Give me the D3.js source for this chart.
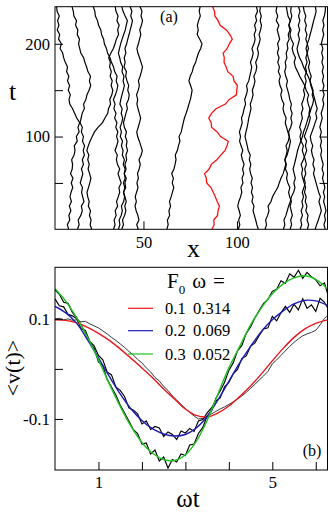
<!DOCTYPE html>
<html><head><meta charset="utf-8">
<script src="https://cdn.jsdelivr.net/npm/d3@7"></script>
<style>
html,body{margin:0;padding:0;background:#fff;}
svg text{font-family:'Liberation Serif','Times New Roman' !important;}
</style></head>
<body>
<script>
// ---------- Panel (a): trajectories x(t) ----------
const xTicksA = [50, 100];
const tTicksA = [50, 100, 150, 200];
const tLabelsA = [100, 200];
const trajBlack = [
 [10.0,9.3,10.6,10.1,11.2,10.4,11.5,10.7,11.3,12.2,11.4,12.3,11.0,11.9,12.1,11.6,12.9,13.4,13.0,14.6,14.1,15.6,15.0,15.9,14.3,13.2,12.1,10.6,10.2,10.9,9.8,10.5,9.4,10.1,8.9,9.4,8.2,7.3,6.8,5.4,6.1,4.6,5.2,3.9,4.8,4.1,5.0,3.8,3.6],
 [14.7,15.6,15.1,16.5,17.3,16.8,18.2,17.5,16.9,17.4,16.2,16.9,17.6,16.8,17.9,17.3,18.4,17.8,18.5,17.4,17.9,16.8,17.3,16.1,16.7,17.2,18.4,18.0,19.2,19.8,20.9,21.8,21.1,21.7,20.3,19.6,18.7,18.0,16.5,15.9,15.3,15.8,14.6,14.9,13.7,14.2,12.8,12.5,11.8],
 [34.0,34.8,34.3,35.4,34.9,36.2,35.6,36.5,37.3,36.9,38.1,37.2,36.4,37.3,36.1,35.5,36.0,34.8,35.7,36.4,35.6,36.3,35.2,35.8,34.6,35.3,34.2,34.8,33.9,35.0,35.8,36.3,35.4,35.9,34.6,34.0,32.9,32.1,30.8,30.2,29.1,28.7,27.6,27.2,26.0,25.4,24.3,24.0,23.2],
 [22.3,21.5,22.0,21.1,21.7,20.5,21.0,20.2,19.8,20.6,21.3,21.9,21.2,20.4,21.0,20.2,20.8,19.7,20.5,21.4,22.6,23.8,25.7,28.1,29.4,30.9,31.3,32.4,32.0,33.1,33.6,32.7,33.3,32.2,32.8,31.9,32.3,31.4,32.6,33.9,34.8,35.5,36.7,36.2,37.0,35.8,36.4,35.3,34.9],
 [36.6,37.4,37.0,38.1,38.7,38.2,39.4,39.9,39.3,40.5,40.1,40.8,39.7,40.2,39.2,39.8,38.7,39.1,38.2,38.8,37.6,38.2,37.5,38.4,38.9,38.1,38.6,37.4,37.9,38.5,39.2,39.8,39.1,39.6,38.5,38.9,37.8,37.3,36.6,37.2,37.8,38.6,39.4,40.3,40.8,41.4,40.2,39.1,38.4],
 [38.4,39.3,38.8,39.9,40.6,40.0,40.8,40.1,39.4,40.0,39.3,40.2,39.8,40.7,40.1,41.0,40.6,41.5,40.8,41.2,40.3,40.9,39.8,39.3,40.0,40.6,41.4,40.9,42.0,42.4,41.6,42.1,41.2,40.5,40.9,39.6,40.2,39.7,40.6,40.1,41.0,41.6,42.3,42.9,43.6,44.1,43.2,43.8,42.9],
 [47.2,46.4,47.6,47.0,46.1,45.5,46.2,45.6,46.3,47.1,46.5,47.3,46.8,47.7,48.3,47.6,48.8,49.4,48.6,47.8,46.9,46.4,47.2,47.9,48.5,47.8,47.1,46.5,46.9,46.3,47.2,47.8,47.3,48.2,48.9,49.5,48.7,47.9,47.0,46.5,47.3,47.9,48.6,48.0,48.9,49.5,48.7,49.2,48.2],
 [62.5,63.2,62.8,64.0,63.6,64.5,63.9,64.8,65.5,66.2,65.4,66.0,65.1,66.3,66.9,67.4,67.0,68.1,68.7,69.5,69.0,70.2,70.7,71.3,71.9,72.8,73.6,74.3,75.1,75.6,76.0,75.2,74.3,75.0,76.1,76.7,77.9,78.6,79.4,80.6,81.3,80.1,78.7,79.3,78.8,79.5,80.4,79.8,80.3],
 [100.7,101.5,100.9,101.8,101.2,100.4,101.0,101.9,102.6,102.1,103.2,102.7,103.6,103.0,103.8,102.9,102.3,103.1,102.2,101.4,101.9,101.3,102.1,102.8,102.4,103.3,103.8,104.6,104.1,105.0,105.6,105.1,106.3,106.8,107.4,107.9,107.2,108.1,108.7,108.0,109.1,109.7,109.2,110.1,109.4,110.5,109.9,111.0,110.4],
 [111.4,110.6,110.0,109.3,108.6,109.1,108.0,108.6,107.7,108.3,107.5,108.2,107.3,106.8,107.4,106.6,107.1,106.0,105.5,104.9,104.3,104.8,105.4,105.9,106.3,106.9,107.5,107.1,108.0,108.6,108.2,109.1,109.6,109.0,110.1,110.6,110.0,111.0,111.5,110.9,111.8,112.4,111.8,112.6,113.1,112.4,113.0,112.2,112.5],
 [115.0,115.8,115.3,116.4,117.1,116.6,118.2,119.0,120.3,121.8,122.6,123.5,124.7,125.4,126.1,125.6,126.8,127.5,128.1,128.6,127.9,127.2,126.5,125.8,126.3,125.2,124.6,125.1,124.0,123.4,124.1,123.0,122.5,123.2,122.1,122.7,121.8,122.5,121.6,122.3,121.7,122.8,122.2,121.5,122.4,121.0,121.8,120.9,121.3],
 [137.6,138.3,137.5,138.0,136.8,137.4,136.5,137.0,136.1,136.7,135.9,135.2,134.6,135.1,134.3,135.5,136.4,137.3,136.6,137.2,136.0,136.9,137.8,138.6,139.2,138.5,139.0,138.1,137.6,138.3,137.0,136.2,134.9,133.5,132.4,131.2,130.6,131.3,130.1,129.5,130.2,129.0,128.3,128.9,127.8,128.4,127.3,126.8,126.4],
 [128.4,129.2,128.7,129.6,129.0,128.4,129.1,128.2,127.6,128.3,127.2,126.5,127.0,125.9,126.4,125.6,126.3,126.9,126.2,127.4,128.0,127.6,128.7,129.4,128.8,129.5,128.6,129.1,128.2,127.8,127.1,126.4,127.0,126.1,125.5,126.2,125.8,126.7,126.3,127.2,126.8,127.9,127.4,128.3,127.7,128.6,129.3,128.7,129.0],
 [124.8,125.6,125.1,126.2,126.9,127.6,128.5,129.1,130.3,131.0,130.4,131.2,130.6,130.0,130.7,131.3,131.9,132.4,133.2,134.1,135.0,135.6,136.5,137.3,138.0,138.9,139.6,140.5,141.0,140.2,140.7,139.8,139.1,138.0,136.8,135.6,134.7,133.5,132.6,132.1,132.8,133.4,132.7,133.5,132.8,133.6,132.9,133.7,132.9],
 [133.8,134.6,134.1,135.0,134.3,135.3,134.7,135.6,134.9,135.8,136.5,135.9,136.8,136.2,137.1,136.5,135.7,134.9,135.5,134.3,133.7,134.4,133.5,134.2,135.0,134.4,135.3,134.6,135.5,136.2,135.6,136.4,137.0,136.3,137.2,136.6,137.5,136.8,137.6,136.9,137.7,136.8,137.4,136.5,137.1,136.2,136.8,135.9,135.5],
 [141.8,142.6,143.5,144.3,145.1,144.5,143.8,144.6,143.7,143.0,142.3,141.6,140.9,141.5,140.6,141.2,140.3,139.8,140.5,139.6,139.2,140.1,141.0,141.8,142.7,142.1,142.9,142.2,141.6,140.9,140.3,139.5,139.0,139.7,138.8,138.2,138.9,138.1,137.5,138.2,137.6,138.5,139.1,139.8,140.4,141.0,141.7,142.3,141.9],
 [147.2,146.5,147.3,146.8,147.6,147.0,146.3,146.9,146.2,147.0,146.4,145.7,146.3,145.5,146.1,145.4,144.8,145.3,144.6,145.2,144.5,145.1,144.3,144.9,145.6,145.0,145.8,146.4,145.8,146.6,145.9,146.5,145.7,146.3,145.6,146.2,145.4,146.0,145.3,145.9,145.1,145.7,146.4,145.8,146.5,145.9,146.7,147.2,147.3]
];
const trajRed = [86.6,87.8,87.6,89.6,89.9,90.6,89.4,88.4,87.3,86.1,83.8,83.6,82.7,85.1,86.3,89.2,91.4,93.6,94.7,95.3,91.2,89.4,86.4,86.2,84.9,86.4,88.8,93.8,95.9,99.7,99.9,100.2,98.4,97.9,95.1,94.2,93.1,93.2,92.6,94.8,95.9,97.5,96.2,94.3,91.0,89.9,88.2,88.0,87.0];

// ---------- Panel (b): <v(t)> vs wt ----------
const xTicksB = [1, 2, 3, 4, 5, 6];
const xLabelsB = [1, 5];
const yTicksB = [-0.1, 0, 0.1];
const yLabelsB = [-0.1, 0.1];
const fitWt = [0,0.25,0.5,0.75,1,1.25,1.5,1.75,2,2.25,2.5,2.75,3,3.25,3.5,3.75,4,4.25,4.5,4.75,5,5.25,5.5,5.75,6,6.27];
const fitRed   = [0.098,0.097,0.092,0.083,0.071,0.057,0.040,0.021,0.002,-0.018,-0.040,-0.060,-0.080,-0.093,-0.096,-0.088,-0.074,-0.055,-0.034,-0.010,0.016,0.041,0.063,0.080,0.091,0.098];
const fitBlue  = [0.125,0.112,0.091,0.058,0.022,-0.015,-0.050,-0.080,-0.103,-0.120,-0.130,-0.134,-0.131,-0.118,-0.095,-0.062,-0.025,0.012,0.045,0.075,0.098,0.116,0.130,0.137,0.136,0.127];
const fitGreen = [0.160,0.135,0.102,0.063,0.018,-0.030,-0.075,-0.115,-0.147,-0.169,-0.181,-0.183,-0.172,-0.145,-0.103,-0.050,0.002,0.045,0.088,0.122,0.150,0.170,0.182,0.186,0.179,0.160];
const simRed = [0.100,0.101,0.098,0.100,0.097,0.098,0.094,0.095,0.090,0.086,0.082,0.076,0.070,0.063,0.057,0.050,0.043,0.035,0.028,0.019,0.012,0.002,-0.006,-0.017,-0.024,-0.035,-0.043,-0.054,-0.062,-0.071,-0.079,-0.087,-0.094,-0.100,-0.099,-0.095,-0.090,-0.085,-0.080,-0.076,-0.071,-0.066,-0.060,-0.054,-0.047,-0.039,-0.031,-0.022,-0.014,-0.005,0.010,0.018,0.027,0.036,0.045,0.053,0.060,0.066,0.070,0.073,0.077,0.088,0.101,0.106];
const simBlue = [0.140,0.126,0.124,0.109,0.106,0.100,0.080,0.077,0.055,0.046,0.027,0.018,-0.006,-0.012,-0.036,-0.043,-0.055,-0.078,-0.082,-0.090,-0.110,-0.104,-0.121,-0.115,-0.118,-0.135,-0.126,-0.131,-0.141,-0.124,-0.128,-0.119,-0.125,-0.104,-0.101,-0.088,-0.078,-0.064,-0.058,-0.036,-0.027,-0.010,-0.001,0.021,0.026,0.045,0.052,0.067,0.080,0.082,0.105,0.096,0.112,0.125,0.113,0.129,0.118,0.140,0.121,0.128,0.115,0.141,0.133,0.122];
const simGreen = [0.158,0.149,0.133,0.131,0.113,0.102,0.088,0.071,0.052,0.041,0.014,0.006,-0.021,-0.036,-0.052,-0.072,-0.088,-0.104,-0.121,-0.129,-0.150,-0.148,-0.170,-0.162,-0.184,-0.176,-0.198,-0.181,-0.186,-0.170,-0.173,-0.152,-0.150,-0.129,-0.117,-0.094,-0.085,-0.059,-0.044,-0.027,-0.003,0.012,0.036,0.047,0.071,0.084,0.102,0.117,0.131,0.139,0.155,0.159,0.176,0.171,0.190,0.183,0.197,0.181,0.193,0.184,0.178,0.166,0.172,0.151];
const legendF0 = ["0.1", "0.2", "0.3"];
const legendW  = ["0.314", "0.069", "0.052"];
const legendColors = ["#e8161c", "#1c1cb4", "#1fc21f"];

// ---------- drawing ----------
const FONT = "Liberation Serif";
const W = 328, H = 513;
const svg = d3.select("body").append("svg").attr("width", W).attr("height", H)
  .style("display", "block").attr("font-family", FONT);

const ax = {l: 55, r: 327.5, t: 6.7, b: 229.3};
const xA = d3.scaleLinear([2.7, 148.4], [ax.l, ax.r]);
const tA = d3.scaleLinear([0, 240], [ax.b, ax.t]);

svg.append("clipPath").attr("id", "clipA").append("rect")
  .attr("x", ax.l).attr("y", ax.t).attr("width", ax.r - ax.l).attr("height", ax.b - ax.t);

const gA = svg.append("g").attr("clip-path", "url(#clipA)");
const trajLine = arr => d3.line()
  .x(d => xA(d))
  .y((d, i) => tA(i * 240 / (arr.length - 1)))(arr);
gA.selectAll("path.tb").data(trajBlack).join("path")
  .attr("class", "tb").attr("d", d => trajLine(d))
  .attr("fill", "none").attr("stroke", "#000").attr("stroke-width", 1.2).attr("stroke-linejoin", "miter");
gA.append("path").attr("d", trajLine(trajRed))
  .attr("fill", "none").attr("stroke", "#ff1010").attr("stroke-width", 1.3);

svg.append("rect").attr("x", ax.l).attr("y", ax.t).attr("width", ax.r - ax.l).attr("height", ax.b - ax.t)
  .attr("fill", "none").attr("stroke", "#000").attr("stroke-width", 1);

const styleAxis = (g, fs) => {
  g.attr("font-family", FONT).attr("font-size", fs);
  g.select(".domain").remove();
  g.selectAll("line").attr("stroke", "#000");
  g.selectAll("text").attr("font-family", FONT).attr("font-size", fs).attr("fill", "#000");
};
svg.append("g").attr("transform", `translate(${ax.l},0)`)
  .call(d3.axisLeft(tA).tickValues(tTicksA).tickSize(-8).tickPadding(5)
    .tickFormat(d => tLabelsA.includes(d) ? d : ""))
  .call(g => styleAxis(g, 16.5));
svg.append("g").attr("transform", `translate(${ax.r},0)`)
  .call(d3.axisRight(tA).tickValues(tTicksA).tickSize(-8).tickFormat(""))
  .call(g => styleAxis(g, 16.5));
svg.append("g").attr("transform", `translate(0,${ax.b})`)
  .call(d3.axisBottom(xA).tickValues(xTicksA).tickSize(-8).tickPadding(7))
  .call(g => styleAxis(g, 16.5));

const label = (x, y, fs, s, anchor) => svg.append("text").attr("x", x).attr("y", y)
  .attr("text-anchor", anchor || "middle").attr("font-family", FONT).attr("font-size", fs).text(s);
label(169, 21.5, 16, "(a)");
label(12.5, 100, 26, "t");
label(193.5, 257, 26, "x");

// panel b
const bx = {l: 55, r: 327.5, t: 267.3, b: 470};
const xB = d3.scaleLinear([0, 6.27], [bx.l, bx.r]);
const yB = d3.scaleLinear([-0.202, 0.203], [bx.b, bx.t]);

svg.append("clipPath").attr("id", "clipB").append("rect")
  .attr("x", bx.l).attr("y", bx.t).attr("width", bx.r - bx.l).attr("height", bx.b - bx.t);
const gB = svg.append("g").attr("clip-path", "url(#clipB)");

const simWt = d3.range(0, 6.25, 0.1).concat([6.27]);
const simLine = d3.line().x((d, i) => xB(simWt[i])).y(d => yB(d));
const fitLine = d3.line().x((d, i) => xB(fitWt[i])).y(d => yB(d)).curve(d3.curveCatmullRom);

gB.append("path").attr("d", simLine(simRed)).attr("fill", "none").attr("stroke", "#222").attr("stroke-width", 0.9);
gB.append("path").attr("d", simLine(simBlue)).attr("fill", "none").attr("stroke", "#000").attr("stroke-width", 1.15);
gB.append("path").attr("d", simLine(simGreen)).attr("fill", "none").attr("stroke", "#000").attr("stroke-width", 1.15);
[fitRed, fitBlue, fitGreen].forEach((f, k) => {
  gB.append("path").attr("d", fitLine(f)).attr("fill", "none")
    .attr("stroke", legendColors[k]).attr("stroke-width", 1.4);
});

svg.append("rect").attr("x", bx.l).attr("y", bx.t).attr("width", bx.r - bx.l).attr("height", bx.b - bx.t)
  .attr("fill", "none").attr("stroke", "#000").attr("stroke-width", 1);

svg.append("g").attr("transform", `translate(${bx.l},0)`)
  .call(d3.axisLeft(yB).tickValues(yTicksB).tickSize(-8).tickPadding(5)
    .tickFormat(d => yLabelsB.includes(d) ? d3.format(".1f")(d).replace("−", "-") : ""))
  .call(g => styleAxis(g, 17));
svg.append("g").attr("transform", `translate(0,${bx.b})`)
  .call(d3.axisBottom(xB).tickValues(xTicksB).tickSize(-8).tickPadding(6)
    .tickFormat(d => xLabelsB.includes(d) ? d : ""))
  .call(g => styleAxis(g, 17));

// legend
const F = svg.append("text").attr("x", 167).attr("y", 288).attr("font-family", FONT).attr("font-size", 21);
F.append("tspan").text("F");
F.append("tspan").attr("font-size", 13).attr("dy", 6).text("0");
F.append("tspan").attr("dy", -6).attr("dx", 7).text("ω");
F.append("tspan").attr("dx", 7).text("=");
legendF0.forEach((f, k) => {
  const y = [308.3, 330.7, 354][k];
  svg.append("line").attr("x1", 128).attr("x2", 153).attr("y1", y).attr("y2", y)
    .attr("stroke", legendColors[k]).attr("stroke-width", 1.2);
  label(165, y + 5.5, 16.5, f, "start");
  label(193, y + 5.5, 16.5, legendW[k], "start");
});

label(312, 456, 16, "(b)");
label(188, 507, 25, "ωt");
svg.append("text").attr("transform", "translate(20,368) rotate(-90)").attr("text-anchor", "middle")
  .attr("font-family", FONT).attr("font-size", 22).text("<v(t)>");
</script>
</body></html>
